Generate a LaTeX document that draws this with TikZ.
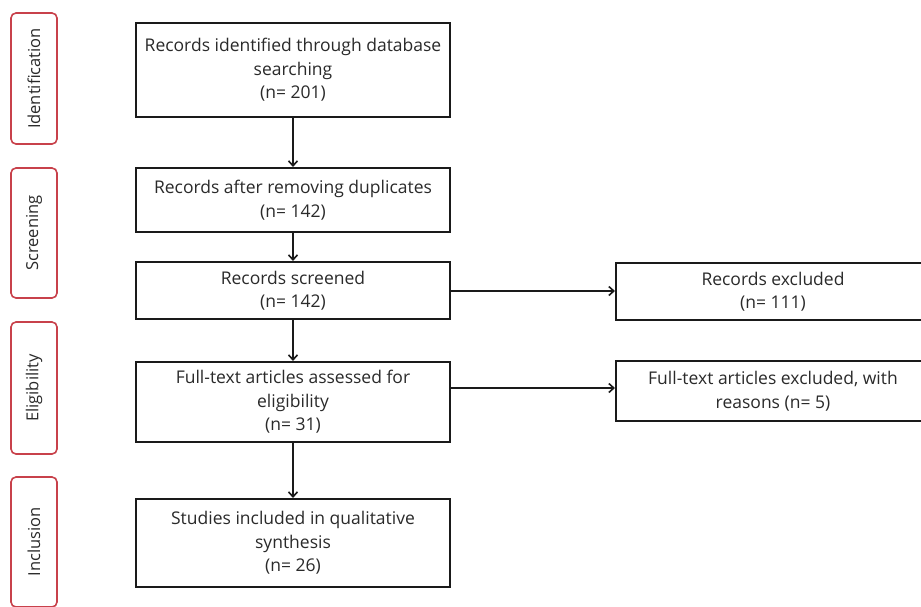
\documentclass[tikz,border=0pt]{standalone}
\usepackage{fontspec}
\setmainfont{Open Sans}
\usetikzlibrary{arrows.meta}
\definecolor{labred}{HTML}{C8414B}
\definecolor{ink}{HTML}{1A1A1A}
\definecolor{txt}{HTML}{2A2A2A}
\tikzset{
  stagebox/.style={draw=labred, line width=1.6pt, rounded corners=5pt, minimum width=46pt, text=txt},
  stagetext/.style={font=\fontsize{16.5}{18}\selectfont, rotate=90, text=txt},
  flowbox/.style={draw=ink, line width=2pt, align=center, text=txt, inner sep=0pt, font=\fontsize{17.5}{23.5}\selectfont},
  flowarrow/.style={draw=ink, line width=1.8pt, -{Straight Barb[length=5pt,width=9pt,line width=1.6pt]}}
}
\begin{document}
\begin{tikzpicture}[x=1pt,y=-1pt]
\useasboundingbox (0,0) rectangle (921,606);
\fill[white] (0,0) rectangle (921,606);
% stage labels
\node[stagebox, minimum height=131pt] (sid) at (34,78.5) {};
\node[stagetext] (tid) at (sid.center) {Identification};
\node[stagebox, minimum height=130pt] (ssc) at (34,233) {};
\node[stagetext] (tsc) at (ssc.center) {Screening};
\node[stagebox, minimum height=132pt] (sel) at (34,388) {};
\node[stagetext] (tel) at (sel.center) {Eligibility};
\node[stagebox, minimum height=130pt] (sin) at (34,542) {};
\node[stagetext] (tin) at (sin.center) {Inclusion};
% main boxes
\node[flowbox, minimum width=314pt, minimum height=94pt] (b1) at (293,70) {Records identified through database\\searching\\(n= 201)};
\node[flowbox, minimum width=314pt, minimum height=64pt] (b2) at (293,200) {Records after removing duplicates\\(n= 142)};
\node[flowbox, minimum width=314pt, minimum height=57pt] (b3) at (293,290.5) {Records screened\\(n= 142)};
\node[flowbox, minimum width=314pt, minimum height=80pt] (b4) at (293,402) {Full-text articles assessed for\\eligibility\\(n= 31)};
\node[flowbox, minimum width=314pt, minimum height=88pt] (b5) at (293,543) {Studies included in qualitative\\synthesis\\(n= 26)};
% right boxes
\node[flowbox, minimum width=314pt, minimum height=57pt] (r1) at (773,291.5) {Records excluded\\(n= 111)};
\node[flowbox, minimum width=314pt, minimum height=60pt] (r2) at (773,391) {Full-text articles excluded, with\\reasons (n= 5)};
% arrows
\draw[flowarrow] (b1) -- (b2);
\draw[flowarrow] (b2) -- (b3);
\draw[flowarrow] (b3) -- (b4);
\draw[flowarrow] (b4) -- (b5);
\coordinate (a1) at ([yshift=0.5pt]r1.west);
\draw[flowarrow] (b3.east |- a1) -- (a1);
\coordinate (a2) at ([yshift=3pt]r2.west);
\draw[flowarrow] (b4.east |- a2) -- (a2);
\end{tikzpicture}
\end{document}
